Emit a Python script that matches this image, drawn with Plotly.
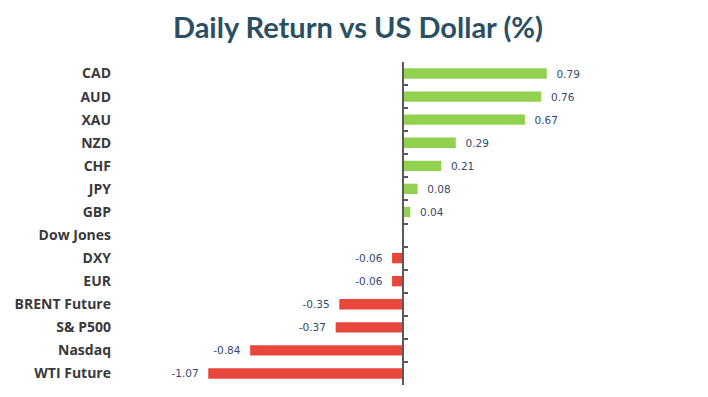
import plotly.graph_objects as go

categories = ["CAD", "AUD", "XAU", "NZD", "CHF", "JPY", "GBP", "Dow Jones",
              "DXY", "EUR", "BRENT Future", "S& P500", "Nasdaq", "WTI Future"]
values = [0.79, 0.76, 0.67, 0.29, 0.21, 0.08, 0.04, 0.0,
          -0.06, -0.06, -0.35, -0.37, -0.84, -1.07]

GREEN = "#92D050"
RED = "#E8473C"
colors = [GREEN if v > 0 else RED for v in values]
labels = ["" if v == 0 else (f"  {v:.2f}" if v > 0 else f"{v:.2f}  ") for v in values]

xmin, xmax = -1.555, 1.676
zero_pos = (0 - xmin) / (xmax - xmin)

fig = go.Figure()
fig.add_trace(go.Bar(
    y=categories, x=values, orientation="h",
    marker=dict(color=colors, line=dict(width=0)),
    text=labels, textposition="outside", cliponaxis=False, constraintext="none",
    textfont=dict(family="DejaVu Sans", size=10.5, color="#34496E"),
    yaxis="y", hoverinfo="skip",
))
# invisible trace to carry the axis line at zero
fig.add_trace(go.Bar(
    y=categories, x=[0] * len(categories), orientation="h",
    marker=dict(color="rgba(0,0,0,0)"), yaxis="y2", showlegend=False,
    hoverinfo="skip",
))

fig.update_layout(
    width=700, height=389,
    margin=dict(l=112, r=0, t=53.5, b=11.5),
    paper_bgcolor="white", plot_bgcolor="white",
    showlegend=False,
    bargap=0.55,
    title=dict(text="<b>Daily Return vs US Dollar (%)</b>", x=0.5, xanchor="center",
               y=0.948, yanchor="middle",
               font=dict(family="Lato", size=29, color="#2B4F63")),
    xaxis=dict(range=[xmin, xmax], showgrid=False, zeroline=False,
               showticklabels=False, showline=False, fixedrange=True),
    yaxis=dict(categoryorder="array", categoryarray=categories, autorange="reversed",
               showgrid=False, showline=False, ticks="", ticklabelstandoff=8,
               tickfont=dict(family="Open Sans", size=14, color="#3A3A3A", weight="bold")),
    yaxis2=dict(overlaying="y", anchor="free", position=zero_pos, side="left",
                categoryorder="array", categoryarray=categories, autorange="reversed",
                showgrid=False, showline=True, linecolor="#595959", linewidth=2,
                ticks="inside", tickson="boundaries", ticklen=4, tickwidth=1.5,
                tickcolor="#595959", showticklabels=False),
)

fig.write_html("out.html")
